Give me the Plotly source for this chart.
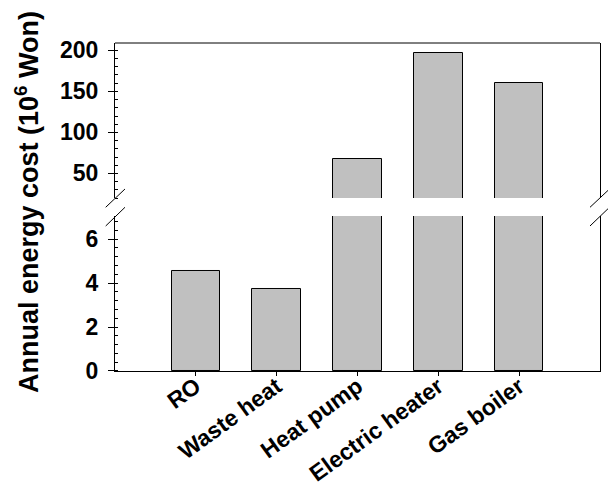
import plotly.graph_objects as go

# Annual energy cost per heating option (10^6 Won)
categories = ["RO", "Waste heat", "Heat pump", "Electric heater", "Gas boiler"]
annual_cost = [4.55, 3.72, 68.0, 197.0, 160.0]

upper_ticks = [50, 100, 150, 200]
lower_ticks = [0, 2, 4, 6]

FONT = "Arial, Liberation Sans, sans-serif"
BAR_FILL = "#c0c0c0"

fig = go.Figure()

# Same bars drawn on the lower (0-7) and upper (20-209) segments of a broken axis
for yax in ("y", "y2"):
    fig.add_trace(go.Bar(
        x=categories, y=annual_cost, yaxis=yax, xaxis="x",
        width=0.6, marker=dict(color=BAR_FILL, line=dict(color="black", width=1)),
        showlegend=False, hoverinfo="x+y",
    ))

tickfont = dict(family=FONT, size=23, color="black", weight="bold")

fig.update_layout(
    width=608, height=488,
    margin=dict(l=115, r=8, t=43, b=117, autoexpand=False),
    paper_bgcolor="white", plot_bgcolor="white",
    bargap=0,
    xaxis=dict(
        range=[-1, 5], anchor="y", showline=True, linecolor="black", linewidth=1,
        ticks="outside", ticklen=4, tickcolor="black", tickangle=-36,
        ticklabelstandoff=-12,
        tickfont=dict(family=FONT, size=23, color="black", weight="bold"),
        showgrid=False, zeroline=False, automargin=False,
    ),
    yaxis=dict(
        domain=[0, 0.4726], range=[0, 7.05], tickvals=lower_ticks,
        showline=True, mirror=True, linecolor="black", linewidth=1,
        ticks="outside", ticklen=6, tickcolor="black", ticklabelstandoff=5,
        minor=dict(dtick=0.4, ticks="inside", ticklen=3, tickcolor="black", showgrid=False),
        tickfont=tickfont, showgrid=False, zeroline=False, automargin=False,
    ),
    yaxis2=dict(
        domain=[0.5274, 1], range=[20, 209], tickvals=upper_ticks, anchor="x",
        showline=True, mirror=True, linecolor="black", linewidth=1,
        ticks="outside", ticklen=6, tickcolor="black", ticklabelstandoff=5,
        minor=dict(dtick=10, ticks="inside", ticklen=3, tickcolor="black", showgrid=False),
        tickfont=tickfont, showgrid=False, zeroline=False, automargin=False,
    ),
)

# Top edge of the frame
fig.add_shape(type="line", xref="x domain", yref="y2 domain",
              x0=0, x1=1, y0=1, y1=1, line=dict(color="black", width=1))

# Break marks on both vertical axes
for xl, xr in ((-0.0192, 0.0206), (0.9794, 1.0196)):
    for yb, yt in ((0.4991, 0.5549), (0.4421, 0.4991)):
        fig.add_shape(type="line", xref="paper", yref="paper",
                      x0=xl, x1=xr, y0=yb, y1=yt,
                      line=dict(color="black", width=1))

fig.add_annotation(
    text="Annual energy cost (10<sup>6</sup> Won)",
    xref="paper", yref="paper", x=-0.1814, y=0.515,
    xanchor="center", yanchor="middle", textangle=-90, showarrow=False,
    font=dict(family=FONT, size=27, color="black", weight="bold"),
)

fig.write_html("out.html")
